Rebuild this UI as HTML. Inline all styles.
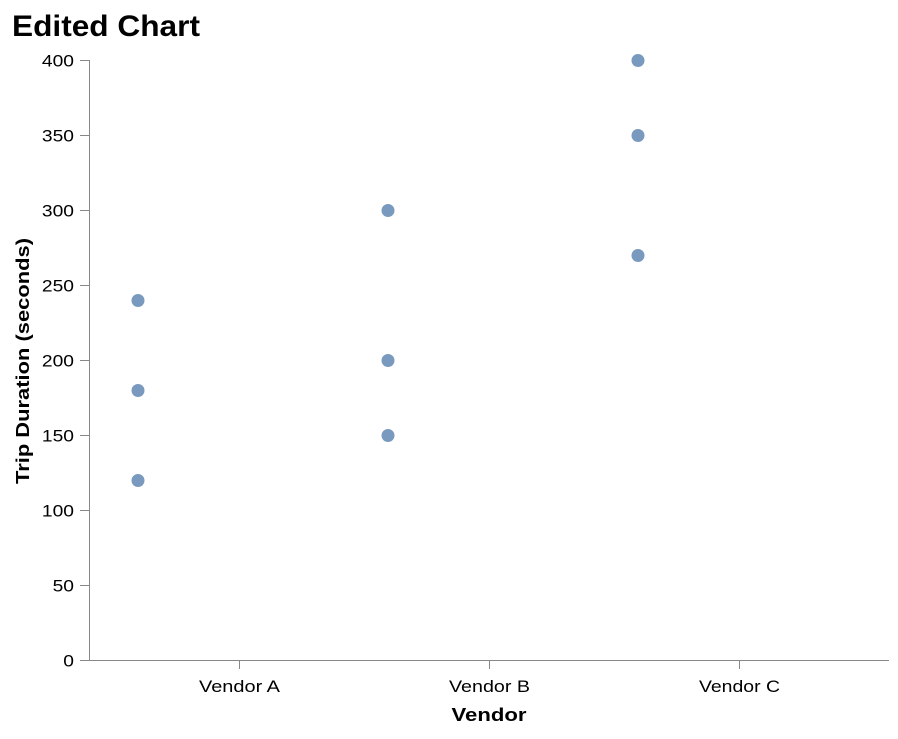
<!DOCTYPE html>
<html><head><meta charset="utf-8"><style>
body{margin:0;background:#fff;font-family:"Liberation Sans",Arial,sans-serif}
</style></head><body>
<svg id="chart" width="898" height="734" xmlns="http://www.w3.org/2000/svg" font-family="Liberation Sans, Arial, sans-serif">
<text x="12" y="36" font-size="30" font-weight="bold" fill="#000" textLength="188" lengthAdjust="spacingAndGlyphs">Edited Chart</text>
<g id="axes"></g>
<g id="marks"></g>
<text transform="translate(29,361) rotate(-90)" text-anchor="middle" font-size="18" font-weight="bold" textLength="246" lengthAdjust="spacingAndGlyphs">Trip Duration (seconds)</text>
<text x="489" y="721" text-anchor="middle" font-size="18" font-weight="bold" textLength="75" lengthAdjust="spacingAndGlyphs">Vendor</text>
</svg>
<script>
const categories = ["Vendor A","Vendor B","Vendor C"];
const pointVendors = ["Vendor A","Vendor A","Vendor A","Vendor B","Vendor B","Vendor B","Vendor C","Vendor C","Vendor C"];
const durations = [120,180,240,150,200,300,270,350,400];
const yTicks = [0,50,100,150,200,250,300,350,400];

const NS="http://www.w3.org/2000/svg";
const x0=89,x1=889,y0=660,y1=60,yMax=400;
function xScale(c){return x0+150+categories.indexOf(c)*250;}
function yScale(v){return y0-(v/yMax)*(y0-y1);}
function mk(tag,attrs,parent){const e=document.createElementNS(NS,tag);for(const k in attrs)e.setAttribute(k,attrs[k]);parent.appendChild(e);return e;}
const axes=document.getElementById('axes'),marks=document.getElementById('marks');
let l=mk('line',{x1:x0+0.5,x2:x0+0.5,y1:y1,y2:y0,stroke:'#888'},axes);


l=mk('line',{x1:x0,x2:x1,y1:y0+0.5,y2:y0+0.5,stroke:'#888'},axes);


yTicks.forEach(v=>{const y=Math.round(yScale(v))+0.5;
 const t=mk('line',{x1:x0-9,x2:x0,y1:y,y2:y,stroke:'#888'},axes);
 
 
 const s=String(v);
 const tx=mk('text',{x:x0-15,y:y+6,'text-anchor':'end','font-size':'17',fill:'#000',textLength:s.length*10.7,lengthAdjust:'spacingAndGlyphs'},axes);tx.textContent=s;
 
 
});
categories.forEach(c=>{const x=xScale(c)+0.5;
 const t=mk('line',{x1:x,x2:x,y1:y0,y2:y0+9,stroke:'#888'},axes);
 
 
 const tx=mk('text',{x:x,y:y0+32,'text-anchor':'middle','font-size':'17',fill:'#000',textLength:81,lengthAdjust:'spacingAndGlyphs'},axes);tx.textContent=c;
 
 
});
durations.forEach((v,i)=>{
 const c=mk('circle',{cx:xScale(pointVendors[i])-101,cy:yScale(v)+0.5,r:6.5,fill:'#4c78a8','fill-opacity':0.75},marks);
 
 
});
</script>
</body></html>
